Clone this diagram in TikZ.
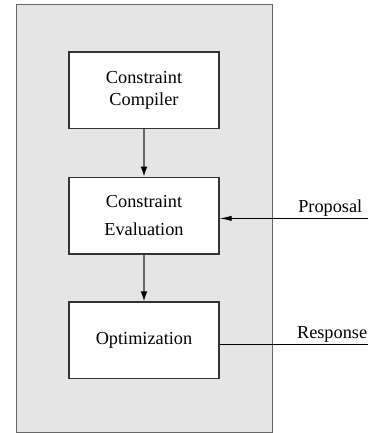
\documentclass[tikz,border=0pt]{standalone}
\usepackage{fontspec}
\setmainfont{Liberation Serif}
\usetikzlibrary{positioning,arrows.meta,fit,backgrounds}

\begin{document}
\begin{tikzpicture}[
    font=\fontsize{13}{16}\selectfont,
    module/.style={draw=black!80, line width=0.8pt, fill=white, minimum width=3.75cm, minimum height=1.92cm, align=center, inner sep=0pt},
    engine/.style={draw=black!60, line width=0.7pt, fill=black!10, inner sep=0pt},
    flow/.style={-{Latex[length=0.25cm,width=0.17cm,color=black]}, draw=black!60, line width=1.1pt},
    signal/.style={line width=0.6pt},
    siglabel/.style={anchor=base west, inner sep=0pt},
  ]
  \useasboundingbox (0,0) rectangle (9.2,-10.825);
  \coordinate (nw) at (0.40,-0.10);
  \coordinate (se) at (6.80,-10.80);
  \node[module] (compiler) at (3.60,-2.26) {Constraint\\Compiler};
  \node[module] (eval) at (3.60,-5.39) {Constraint\\[4.5pt]Evaluation};
  \node[module] (optim) at (3.60,-8.51) {Optimization};
  \coordinate (propin) at (9.20,-5.46);
  \coordinate (respout) at (9.20,-8.60);
  \node[siglabel] (proplabel) at (7.45,-5.32) {Proposal};
  \node[siglabel] (resplabel) at (7.42,-8.45) {Response};
  \draw[flow] (compiler) -- (eval);
  \draw[flow] (eval) -- (optim);
  \draw[signal,-{Latex[length=0.3cm,width=0.13cm]}] (propin) -- (propin -| eval.east);
  \draw[signal] (respout -| optim.east) -- (respout);
  \begin{scope}[on background layer]
    \node[engine,fit=(nw) (se)] (engine) {};
  \end{scope}
\end{tikzpicture}
\end{document}
